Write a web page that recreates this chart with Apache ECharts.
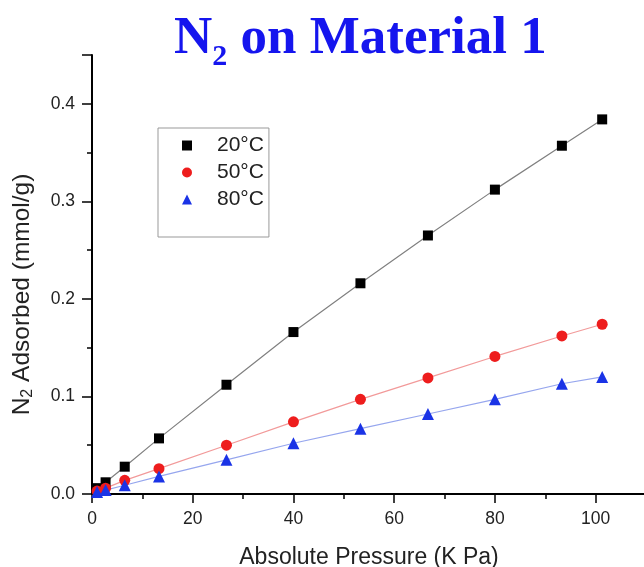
<!DOCTYPE html>
<html>
<head>
<meta charset="utf-8">
<script src="https://cdn.jsdelivr.net/npm/echarts@6/dist/echarts.min.js"></script>
<style>
  html, body { margin: 0; padding: 0; background: #fff; }
  #chart { width: 644px; height: 567px; }
</style>
</head>
<body>
<div id="chart"></div>
<script>
// N2 adsorption isotherms on Material 1
var pressure = [1.0, 2.7, 6.5, 13.3, 26.7, 40.0, 53.3, 66.7, 80.0, 93.3, 101.3];
var ads20 = [0.006, 0.012, 0.028, 0.057, 0.112, 0.166, 0.216, 0.265, 0.312, 0.357, 0.384];
var ads50 = [0.003, 0.006, 0.014, 0.026, 0.050, 0.074, 0.097, 0.119, 0.141, 0.162, 0.174];
var ads80 = [0.002, 0.004, 0.009, 0.018, 0.035, 0.052, 0.067, 0.082, 0.097, 0.113, 0.120];
var seriesNames = ['20°C', '50°C', '80°C'];

(function() {
  var font = 'Liberation Sans, Arial, sans-serif';
  var serif = 'Liberation Serif, Times New Roman, serif';
  var ink = '#222';

  function pairs(ys) {
    return pressure.map(function(x, i) { return [x, ys[i]]; });
  }

  function makeSeries(name, ys, symbol, size, color, lineColor) {
    return {
      name: name,
      type: 'line',
      data: pairs(ys),
      xAxisIndex: 0,
      yAxisIndex: 0,
      symbol: symbol,
      symbolSize: size,
      showAllSymbol: true,
      itemStyle: { color: color },
      lineStyle: { color: lineColor, width: 1.2 },
      emphasis: { disabled: true }
    };
  }

  var chart = echarts.init(document.getElementById('chart'), null, { renderer: 'canvas' });
  chart.setOption({
    animation: false,
    title: {
      text: '{n|N}{s|2}{n| on Material 1}',
      left: 174,
      top: 7,
      padding: 0,
      textStyle: {
        rich: {
          n: { fontFamily: serif, fontWeight: 'bold', fontSize: 53, color: '#1515ee', lineHeight: 60 },
          s: { fontFamily: serif, fontWeight: 'bold', fontSize: 30, color: '#1515ee', padding: [35, 0, 0, 0] }
        }
      }
    },
    legend: {
      orient: 'vertical',
      left: 158,
      top: 128,
      selectedMode: false,
      borderColor: '#999',
      borderWidth: 1,
      padding: [7, 5, 27, 24],
      itemGap: 6,
      itemWidth: 10,
      itemHeight: 10,
      textStyle: { fontFamily: font, fontSize: 21, color: ink, padding: [0, 0, 0, 20] },
      data: [
        { name: seriesNames[0], icon: 'rect' },
        { name: seriesNames[1], icon: 'circle' },
        { name: seriesNames[2], icon: 'triangle' }
      ]
    },
    grid: { left: 92, top: 55, width: 554, bottom: 73, outerBoundsMode: 'none' },
    xAxis: [
      {
        type: 'value', min: 0, max: 110, interval: 10, position: 'bottom',
        axisLine: { onZero: false, lineStyle: { color: '#000', width: 2 } },
        axisTick: { length: 5, lineStyle: { color: '#000', width: 1.5 } },
        axisLabel: { show: false },
        splitLine: { show: false }
      },
      {
        type: 'value', min: 0, max: 110, interval: 20, position: 'bottom',
        name: 'Absolute Pressure (K Pa)',
        nameLocation: 'middle',
        nameGap: 52,
        nameTextStyle: { fontFamily: font, fontSize: 23, color: ink },
        axisLine: { show: false, onZero: false },
        axisTick: { length: 9, lineStyle: { color: '#000', width: 1.5 } },
        axisLabel: {
          margin: 16, fontFamily: font, fontSize: 17.5, color: ink,
          formatter: function(v) { return v > 105 ? '' : String(v); }
        },
        splitLine: { show: false }
      }
    ],
    yAxis: [
      {
        type: 'value', min: 0, max: 0.45, interval: 0.05, position: 'left',
        axisLine: { show: true, onZero: false, lineStyle: { color: '#000', width: 2 } },
        axisTick: { show: true, length: 5, lineStyle: { color: '#000', width: 1.5 } },
        axisLabel: { show: false },
        splitLine: { show: false }
      },
      {
        type: 'value', min: 0, max: 0.45, interval: 0.1, position: 'left',
        name: '{n|N}{s|2}{n| Adsorbed (mmol/g)}',
        nameLocation: 'middle',
        nameGap: 56,
        nameTextStyle: {
          padding: [0, 40, 0, 0],
          rich: {
            n: { fontFamily: font, fontSize: 24.5, color: ink, lineHeight: 28 },
            s: { fontFamily: font, fontSize: 16, color: ink, padding: [11, 0, 0, 0] }
          }
        },
        axisLine: { show: false, onZero: false },
        axisTick: { show: true, length: 10, lineStyle: { color: '#000', width: 1.5 } },
        axisLabel: {
          margin: 17, fontFamily: font, fontSize: 17.5, color: ink,
          formatter: function(v) { return v > 0.41 ? '' : v.toFixed(1); }
        },
        splitLine: { show: false }
      }
    ],
    series: [
      makeSeries(seriesNames[0], ads20, 'rect', 10, '#000000', '#808080'),
      makeSeries(seriesNames[1], ads50, 'circle', 11, '#ee1d1d', '#f29a9a'),
      makeSeries(seriesNames[2], ads80, 'triangle', 12, '#1a33e6', '#96a6ee')
    ]
  });
})();
</script>
</body>
</html>
